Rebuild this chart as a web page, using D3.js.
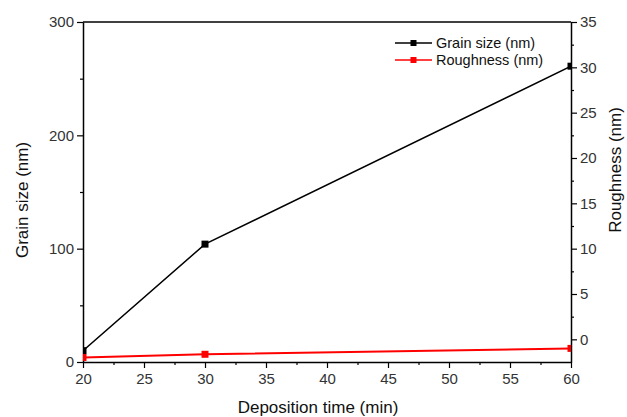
<!DOCTYPE html>
<html><head><meta charset="utf-8">
<script src="https://cdn.jsdelivr.net/npm/d3@7"></script>
<style>body{margin:0;background:#fff}svg{font-family:"Liberation Sans",Arial,sans-serif}</style>
</head><body><svg id="c" width="627" height="417"></svg>
<script>
const times = [20, 30, 60];
const grainSize = [10, 104, 261];
const roughness = [-2.0, -1.65, -1.0];
const xTicks = [20,25,30,35,40,45,50,55,60];
const leftTicks = [0,100,200,300];
const rightTicks = [0,5,10,15,20,25,30,35];

const svg = d3.select("#c");
const L=83, R=571, T=22, B=362;
const x = d3.scaleLinear().domain([20,60]).range([L,R]);
const yL = d3.scaleLinear().domain([0,300]).range([B,T]);
const yR = d3.scaleLinear().domain([-2.5,35]).range([B,T]);

svg.append("defs").append("clipPath").attr("id","clip")
  .append("rect").attr("x",L).attr("y",T).attr("width",R-L).attr("height",B-T);

function style(g){
  g.selectAll(".domain").attr("stroke","#000").attr("stroke-width",1.5);
  g.selectAll(".tick line").attr("stroke","#000").attr("stroke-width",1.2);
  g.selectAll(".tick text").attr("fill","#333").style("font-size","15px");
}
const xMinor = d3.range(22.5,60,5);
svg.append("g").attr("transform",`translate(0,${B})`)
  .call(d3.axisBottom(x).tickValues(xMinor).tickSize(3).tickFormat(""))
  .call(g=>{g.select(".domain").remove();g.selectAll("line").attr("stroke","#000").attr("stroke-width",1.2);});
svg.append("g").attr("transform",`translate(${L},0)`)
  .call(d3.axisLeft(yL).tickValues([50,150,250]).tickSize(3).tickFormat(""))
  .call(g=>{g.select(".domain").remove();g.selectAll("line").attr("stroke","#000").attr("stroke-width",1.2);});
svg.append("g").attr("transform",`translate(${R},0)`)
  .call(d3.axisRight(yR).tickValues(d3.range(2.5,35,5)).tickSize(3).tickFormat(""))
  .call(g=>{g.select(".domain").remove();g.selectAll("line").attr("stroke","#000").attr("stroke-width",1.2);});

svg.append("g").attr("transform",`translate(0,${B})`)
  .call(d3.axisBottom(x).tickValues(xTicks).tickSize(6).tickSizeOuter(0).tickPadding(5)).call(style);
svg.append("g").attr("transform",`translate(${L},0)`)
  .call(d3.axisLeft(yL).tickValues(leftTicks).tickSize(6).tickSizeOuter(0).tickPadding(3)).call(style);
svg.append("g").attr("transform",`translate(${R},0)`)
  .call(d3.axisRight(yR).tickValues(rightTicks).tickSize(6).tickSizeOuter(0).tickPadding(3)).call(style);
svg.append("line").attr("x1",L).attr("x2",R).attr("y1",T).attr("y2",T).attr("stroke","#000").attr("stroke-width",1.5);

const plot = svg.append("g").attr("clip-path","url(#clip)");
const gData = times.map((t,i)=>[x(t), yL(grainSize[i])]);
const rData = times.map((t,i)=>[x(t), yR(roughness[i])]);
plot.append("path").attr("d",d3.line()(gData)).attr("fill","none").attr("stroke","#000").attr("stroke-width",1.5);
plot.append("path").attr("d",d3.line()(rData)).attr("fill","none").attr("stroke","#ff0000").attr("stroke-width",2);
const ms=7;
plot.selectAll(".gm").data(gData).enter().append("rect")
  .attr("x",d=>d[0]-ms/2).attr("y",d=>d[1]-ms/2).attr("width",ms).attr("height",ms).attr("fill","#000");
plot.selectAll(".rm").data(rData).enter().append("rect")
  .attr("x",d=>d[0]-ms/2).attr("y",d=>d[1]-ms/2).attr("width",ms).attr("height",ms).attr("fill","#ff0000");

const leg = [["Grain size (nm)","#000",43],["Roughness (nm)","#ff0000",60]];
leg.forEach(([t,c,yy])=>{
  svg.append("line").attr("x1",395).attr("x2",432).attr("y1",yy).attr("y2",yy).attr("stroke",c).attr("stroke-width",1.5);
  svg.append("rect").attr("x",413.5-3).attr("y",yy-3).attr("width",6).attr("height",6).attr("fill",c);
  svg.append("text").attr("x",436).attr("y",yy+5).text(t).style("font-size","14.5px").attr("fill","#111");
});

svg.append("text").attr("transform","translate(28,200) rotate(-90)").attr("text-anchor","middle")
  .style("font-size","17px").attr("fill","#111").text("Grain size (nm)");
svg.append("text").attr("transform","translate(621,170) rotate(-90)").attr("text-anchor","middle")
  .style("font-size","17px").attr("fill","#111").text("Roughness (nm)");
svg.append("text").attr("x",318).attr("y",413).attr("text-anchor","middle")
  .style("font-size","17px").attr("fill","#111").text("Deposition time (min)");
</script></body></html>
